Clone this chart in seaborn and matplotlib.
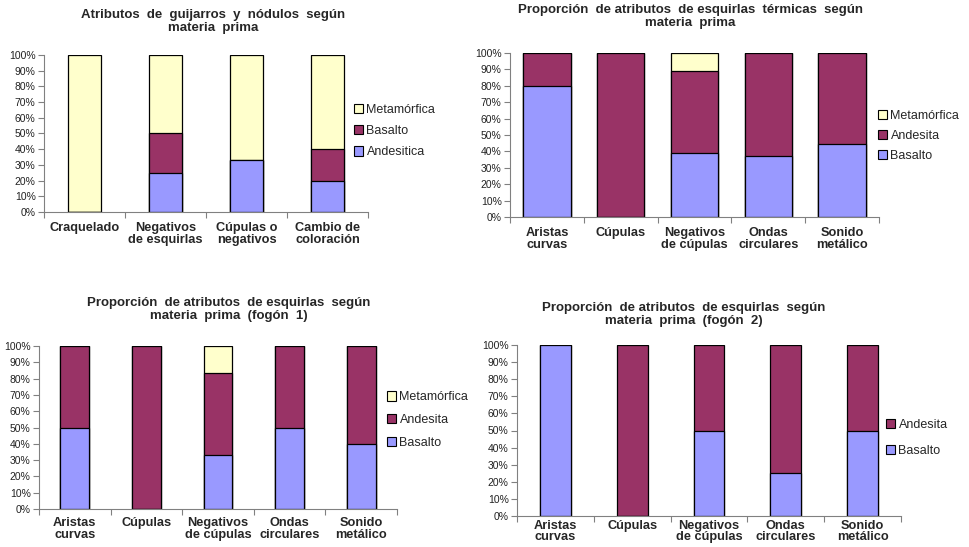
import numpy as np
import pandas as pd
import matplotlib
matplotlib.use("Agg")
import matplotlib.pyplot as plt
import seaborn as sns
from matplotlib.patches import Patch
from matplotlib.ticker import FixedLocator, FuncFormatter

sns.set_theme(style="white")
plt.rcParams['font.family'] = ['Liberation Sans', 'DejaVu Sans']

BLUE = "#9999FF"
MAROON = "#993366"
YELLOW = "#FFFFCC"

# ---------------- Data ----------------
p1_title = "Atributos  de  guijarros  y  nódulos  según\nmateria  prima"
p1_categories = ["Craquelado", "Negativos\nde esquirlas", "Cúpulas o\nnegativos", "Cambio de\ncoloración"]
p1_andesitica = [0, 25, 33.3, 20]
p1_basalto = [0, 25, 0, 20]
p1_metamorfica = [100, 50, 66.7, 60]

p2_title = "Proporción  de atributos  de esquirlas  térmicas  según\nmateria  prima"
p2_categories = ["Aristas\ncurvas", "Cúpulas", "Negativos\nde cúpulas", "Ondas\ncirculares", "Sonido\nmetálico"]
p2_basalto = [80, 0, 38.9, 37.5, 44.4]
p2_andesita = [20, 100, 50, 62.5, 55.6]
p2_metamorfica = [0, 0, 11.1, 0, 0]

p3_title = "Proporción  de atributos  de esquirlas  según\nmateria  prima  (fogón  1)"
p3_categories = ["Aristas\ncurvas", "Cúpulas", "Negativos\nde cúpulas", "Ondas\ncirculares", "Sonido\nmetálico"]
p3_basalto = [50, 0, 33.3, 50, 40]
p3_andesita = [50, 100, 50, 50, 60]
p3_metamorfica = [0, 0, 16.7, 0, 0]

p4_title = "Proporción  de atributos  de esquirlas  según\nmateria  prima  (fogón  2)"
p4_categories = ["Aristas\ncurvas", "Cúpulas", "Negativos\nde cúpulas", "Ondas\ncirculares", "Sonido\nmetálico"]
p4_basalto = [100, 0, 50, 25, 50]
p4_andesita = [0, 100, 50, 75, 50]

W, H = 970, 547
fig = plt.figure(figsize=(W / 100, H / 100), dpi=100)
fig.patch.set_facecolor("white")


def px_axes(left, right, top, bottom):
    return fig.add_axes([left / W, 1 - bottom / H, (right - left) / W, (bottom - top) / H])


def draw_panel(ax, categories, series, width, title, title_xy, legend_xy, labelspacing,
               xpad=7, xls=1.0):
    # series: list of (label, values, color) from bottom to top
    cum = np.zeros(len(categories))
    tops = []
    for label, vals, color in series:
        cum = cum + np.asarray(vals, dtype=float)
        tops.append((label, cum.copy(), color))
    for label, top, color in reversed(tops):
        df = pd.DataFrame({"cat": categories, "val": top})
        sns.barplot(data=df, x="cat", y="val", color=color, saturation=1,
                    width=width, edgecolor="black", linewidth=0.9, ax=ax,
                    errorbar=None, order=categories)
    n = len(categories)
    ax.set_xlim(-0.5, n - 0.5)
    ax.set_ylim(0, 100)
    ax.set_xlabel("")
    ax.set_ylabel("")
    ax.set_yticks(np.arange(0, 101, 10))
    ax.yaxis.set_major_formatter(FuncFormatter(lambda v, p: f"{int(round(v))}%"))
    ax.tick_params(axis="y", which="major", length=4, width=0.8, color="#808080",
                   labelsize=7.5, labelcolor="#222222", pad=2, left=True)
    ax.xaxis.set_minor_locator(FixedLocator(np.arange(-0.5, n, 1.0)))
    ax.tick_params(axis="x", which="major", length=0, labelsize=9.2, pad=xpad)
    ax.tick_params(axis="x", which="minor", length=4, width=0.8, color="#808080", bottom=True)
    for lab in ax.get_xticklabels():
        lab.set_fontweight("bold")
        lab.set_linespacing(xls)
    for s in ["top", "right"]:
        ax.spines[s].set_visible(False)
    for s in ["left", "bottom"]:
        ax.spines[s].set_color("#808080")
        ax.spines[s].set_linewidth(0.8)
    ax.set_facecolor("white")
    fig.text(title_xy[0] / W, 1 - title_xy[1] / H, title, ha="center", va="top",
             fontsize=9.5, fontweight="bold", linespacing=1.1)
    handles = [Patch(facecolor=c, edgecolor="black", linewidth=0.8, label=l)
               for l, v, c in reversed(series)]
    ax.legend(handles=handles, loc="center left",
              bbox_to_anchor=(legend_xy[0] / W, 1 - legend_xy[1] / H),
              bbox_transform=fig.transFigure, frameon=False, fontsize=9,
              handlelength=0.75, handleheight=0.75, handletextpad=0.25,
              labelspacing=labelspacing, borderpad=0, borderaxespad=0)


ax1 = px_axes(44, 368, 55, 212)
draw_panel(ax1, p1_categories,
           [("Andesitica", p1_andesitica, BLUE), ("Basalto", p1_basalto, MAROON),
            ("Metamórfica", p1_metamorfica, YELLOW)],
           0.41, p1_title, (213, 9), (354, 131), 0.75)

ax2 = px_axes(510, 879, 53, 217)
draw_panel(ax2, p2_categories,
           [("Basalto", p2_basalto, BLUE), ("Andesita", p2_andesita, MAROON),
            ("Metamórfica", p2_metamorfica, YELLOW)],
           0.64, p2_title, (690, 4), (878, 136), 0.65)

ax3 = px_axes(39, 397, 346, 509)
draw_panel(ax3, p3_categories,
           [("Basalto", p3_basalto, BLUE), ("Andesita", p3_andesita, MAROON),
            ("Metamórfica", p3_metamorfica, YELLOW)],
           0.4, p3_title, (229, 297), (387, 420), 0.85, xpad=6, xls=0.98)

ax4 = px_axes(517, 901, 345, 516)
draw_panel(ax4, p4_categories,
           [("Basalto", p4_basalto, BLUE), ("Andesita", p4_andesita, MAROON)],
           0.4, p4_title, (684, 302), (886, 438), 1.15, xpad=3, xls=0.9)

fig.savefig("out.png", dpi=100, facecolor="white")
